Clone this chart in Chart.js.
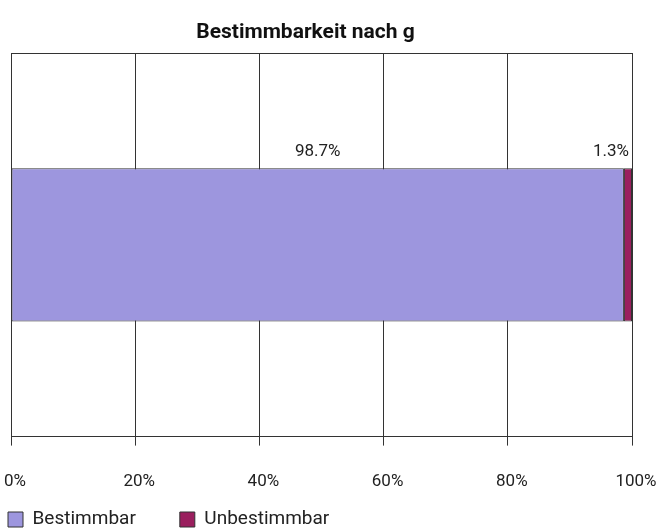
<!DOCTYPE html>
<html>
<head>
<meta charset="utf-8">
<script src="https://cdn.jsdelivr.net/npm/chart.js@4/dist/chart.umd.min.js"></script>
<style>
  html, body { margin: 0; padding: 0; background: #fff; }
  #wrap { width: 658px; height: 532px; }
</style>
</head>
<body>
<div id="wrap"><canvas id="myChart"></canvas></div>
<script>
// Datos
const kategorien = ['g']
const serien = ['Bestimmbar', 'Unbestimmbar']
const werte = [[98.7], [1.3]]
const farben = ['#9d96de', '#9a1f5e']
const achsenTicks = [0, 20, 40, 60, 80, 100]

const schrift = "Roboto, 'Liberation Sans', sans-serif"
const legendeAbstand = 44
const ctx = document.getElementById('myChart')

// Rahmen um die Zeichenfläche
const rahmen = {
    id: 'rahmen',
    afterDatasetsDraw(chart) {
        const { ctx, chartArea: a } = chart
        ctx.save()
        ctx.strokeStyle = '#333'
        ctx.lineWidth = 1
        ctx.strokeRect(Math.round(a.left) + 0.5, Math.round(a.top) + 0.5,
            Math.round(a.right - a.left), Math.round(a.bottom - a.top))
        ctx.restore()
    }
}

// Legende: großer Abstand zwischen den Einträgen, aber flach und links bündig
const legendeKompakt = {
    id: 'legendeKompakt',
    beforeLayout(chart) {
        const lg = chart.legend
        if (!lg || lg._kompakt) return
        const fit = lg.fit
        lg.fit = function () {
            fit.call(this)
            this.height = 41
        }
        lg._kompakt = true
    },
    afterLayout(chart) {
        const lg = chart.legend
        lg.top -= legendeAbstand - 19
        lg.left -= legendeAbstand + 3
        lg.right -= legendeAbstand + 3
        const tb = chart.titleBlock
        tb.left -= 16
        tb.right -= 16
    }
}

// Prozentwerte über dem Balken
const wertLabels = {
    id: 'wertLabels',
    afterDatasetsDraw(chart) {
        const { ctx } = chart
        ctx.save()
        ctx.font = '17px ' + schrift
        ctx.fillStyle = '#222'
        ctx.textBaseline = 'bottom'
        chart.data.datasets.forEach((ds, i) => {
            const bar = chart.getDatasetMeta(i).data[0]
            const top = bar.y - bar.height / 2 - 8
            const text = ds.data[0].toFixed(1) + '%'
            if (i === 0) {
                ctx.textAlign = 'center'
                ctx.fillText(text, (bar.base + bar.x) / 2, top)
            } else {
                ctx.textAlign = 'right'
                ctx.fillText(text, bar.x - 3, top)
            }
        })
        ctx.restore()
    }
}

new Chart(ctx, {
    type: 'bar',
    data: {
        labels: kategorien,
        datasets: serien.map((name, i) => ({
            label: name,
            data: werte[i],
            backgroundColor: farben[i],
            borderColor: '#333',
            borderWidth: 1,
            borderSkipped: false,
            categoryPercentage: 0.4,
            barPercentage: 1
        }))
    },
    options: {
        indexAxis: 'y',
        responsive: true,
        maintainAspectRatio: false,
        animation: false,
        layout: { padding: { left: 11, right: 26, top: 0, bottom: 0 } },
        scales: {
            x: {
                stacked: true,
                min: 0,
                max: 100,
                afterBuildTicks: axis => { axis.ticks = achsenTicks.map(v => ({ value: v })) },
                afterFit: axis => {
                    axis.paddingLeft = 0
                    axis.paddingRight = 0
                    axis.height -= 27
                },
                ticks: {
                    callback: v => v + '%',
                    color: '#222',
                    font: { family: schrift, size: 17 },
                    padding: 26,
                    labelOffset: 4,
                    maxRotation: 0
                },
                grid: { color: '#333', lineWidth: 1, tickLength: 9 },
                border: { color: '#333' }
            },
            y: {
                stacked: true,
                display: false
            }
        },
        plugins: {
            title: {
                display: true,
                text: 'Bestimmbarkeit nach g',
                color: '#111',
                font: { family: schrift, size: 21, weight: 'bold' },
                padding: { top: 20, bottom: 8 }
            },
            legend: {
                position: 'bottom',
                align: 'start',
                labels: {
                    color: '#222',
                    font: { family: schrift, size: 19 },
                    boxWidth: 15,
                    boxHeight: 15,
                    padding: legendeAbstand
                }
            },
            tooltip: { enabled: false }
        }
    },
    plugins: [rahmen, wertLabels, legendeKompakt]
})
</script>
</body>
</html>
